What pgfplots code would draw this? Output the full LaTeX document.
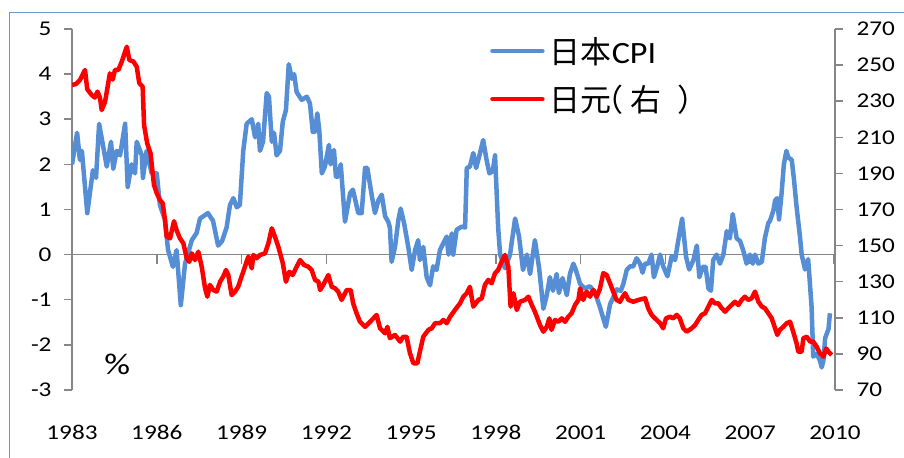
\documentclass[border=0pt]{standalone}
\usepackage{fontspec}
\setmainfont{Carlito}[FakeStretch=1.2]
\newfontfamily\legfont{Carlito}[FakeStretch=1.1]
\newfontfamily\cjk{Noto Sans CJK SC}
\usepackage{pgfplots}
\usepackage{pgfplotstable}
\pgfplotsset{compat=1.18}
\definecolor{cpiblue}{RGB}{85,142,213}
\definecolor{axgray}{RGB}{134,134,134}
\definecolor{frameblue}{RGB}{100,150,210}

\pgfplotstableread{
year cpi
1983.00 2.0
1983.18 2.7
1983.28 2.1
1983.35 2.3
1983.54 0.92
1983.74 1.87
1983.85 1.7
1983.96 2.9
1984.23 1.95
1984.38 2.5
1984.46 1.9
1984.58 2.3
1984.70 2.2
1984.88 2.9
1984.97 1.5
1985.11 2.0
1985.23 1.8
1985.29 2.5
1985.47 2.2
1985.51 1.7
1985.64 2.3
1985.82 1.8
1986.00 1.8
1986.11 1.1
1986.29 0.77
1986.40 0.1
1986.57 -0.27
1986.70 0.1
1986.85 -1.12
1987.00 -0.2
1987.24 0.32
1987.41 0.48
1987.53 0.8
1987.81 0.92
1987.99 0.75
1988.17 0.2
1988.31 0.3
1988.47 0.6
1988.59 1.1
1988.71 1.25
1988.83 1.05
1988.94 1.1
1989.06 2.3
1989.18 2.9
1989.36 3.0
1989.48 2.6
1989.59 2.9
1989.65 2.3
1989.76 2.5
1989.89 3.58
1989.97 3.5
1990.07 2.5
1990.15 2.7
1990.24 2.2
1990.36 2.3
1990.46 2.95
1990.57 3.2
1990.67 4.22
1990.78 3.9
1990.86 4.0
1990.95 3.6
1991.13 3.43
1991.31 3.5
1991.42 3.35
1991.52 2.72
1991.60 2.72
1991.68 3.13
1991.75 2.76
1991.84 1.8
1991.95 1.95
1992.09 2.43
1992.15 2.0
1992.27 2.32
1992.34 1.73
1992.42 1.73
1992.51 2.0
1992.66 0.73
1992.84 1.36
1992.94 1.44
1993.13 0.92
1993.25 0.92
1993.37 1.92
1993.45 1.92
1993.61 1.3
1993.72 0.92
1993.84 1.2
1993.96 1.33
1994.08 0.85
1994.19 0.73
1994.25 0.6
1994.31 -0.16
1994.43 0.17
1994.55 0.77
1994.63 1.02
1994.75 0.7
1994.90 0.17
1995.02 -0.34
1995.14 0.1
1995.25 0.32
1995.31 -0.12
1995.43 0.17
1995.55 -0.5
1995.67 -0.68
1995.78 -0.26
1995.90 -0.34
1996.02 0.1
1996.14 0.25
1996.26 0.4
1996.32 0.0
1996.44 0.47
1996.49 0.0
1996.61 0.55
1996.79 0.62
1996.91 0.6
1996.97 1.92
1997.08 1.95
1997.20 2.25
1997.30 1.92
1997.41 2.18
1997.55 2.54
1997.67 2.1
1997.77 1.8
1997.89 1.85
1997.97 2.2
1998.08 0.6
1998.15 0.0
1998.32 -0.3
1998.50 0.0
1998.68 0.8
1998.82 0.4
1998.96 -0.34
1999.10 0.0
1999.21 -0.43
1999.38 0.32
1999.53 -0.3
1999.68 -1.2
1999.80 -0.9
1999.91 -0.5
2000.02 -0.8
2000.15 -0.43
2000.23 -0.85
2000.36 -0.52
2000.51 -0.9
2000.62 -0.43
2000.74 -0.2
2000.83 -0.34
2000.98 -0.65
2001.15 -0.75
2001.33 -0.7
2001.51 -0.85
2001.68 -1.16
2001.89 -1.6
2002.04 -1.1
2002.15 -0.95
2002.27 -0.77
2002.42 -0.8
2002.51 -0.65
2002.63 -0.34
2002.75 -0.26
2002.86 -0.26
2002.98 -0.08
2003.10 -0.2
2003.19 -0.4
2003.28 -0.2
2003.39 -0.2
2003.51 0.0
2003.59 -0.5
2003.71 -0.26
2003.81 0.0
2003.92 -0.26
2004.07 -0.48
2004.22 -0.04
2004.34 -0.12
2004.45 0.3
2004.59 0.8
2004.73 -0.05
2004.84 -0.33
2004.99 -0.12
2005.11 0.2
2005.20 -0.5
2005.32 -0.27
2005.42 -0.27
2005.52 -0.75
2005.61 -0.8
2005.69 -0.12
2005.81 0.0
2005.93 -0.2
2006.05 0.0
2006.17 0.52
2006.28 0.36
2006.38 0.9
2006.52 0.36
2006.64 0.3
2006.75 0.1
2006.87 -0.2
2006.99 0.0
2007.09 -0.2
2007.17 0.0
2007.29 -0.2
2007.41 -0.16
2007.52 0.37
2007.64 0.7
2007.70 0.75
2007.82 0.98
2007.88 1.2
2007.95 1.25
2008.02 0.78
2008.11 1.36
2008.19 2.0
2008.28 2.3
2008.35 2.15
2008.47 2.1
2008.55 1.65
2008.64 1.06
2008.76 0.4
2008.82 0.0
2008.94 -0.33
2009.05 -0.1
2009.17 -1.15
2009.23 -2.26
2009.35 -2.2
2009.47 -2.35
2009.53 -2.5
2009.59 -2.35
2009.65 -1.85
2009.77 -1.65
2009.82 -1.3
}\cpidata

\pgfplotstableread{
year yen
1983.00 239
1983.14 239.5
1983.28 241.7
1983.46 247.3
1983.54 236.6
1983.70 233.4
1983.81 232
1983.90 235.3
1983.99 232
1984.05 225.1
1984.17 229.7
1984.34 245.4
1984.44 242
1984.52 247.3
1984.64 247.3
1984.76 251.9
1984.94 260.2
1985.03 252.8
1985.17 252
1985.29 249.1
1985.38 240
1985.50 238
1985.55 216.8
1985.66 206.7
1985.78 201.1
1985.90 183.6
1986.00 179
1986.11 175.3
1986.21 173.4
1986.29 164.2
1986.35 155
1986.47 154
1986.61 163.5
1986.70 158.6
1986.82 154
1986.94 151.3
1987.06 143
1987.15 141
1987.24 145.7
1987.35 142
1987.47 146.6
1987.59 138.3
1987.71 126.3
1987.79 121.7
1987.88 128.2
1988.00 125.4
1988.12 124.5
1988.24 130
1988.35 132.8
1988.45 136.5
1988.53 133.7
1988.65 122.6
1988.77 124.5
1988.88 127.2
1989.00 132.8
1989.12 138.3
1989.24 143.9
1989.36 137.4
1989.42 144.8
1989.54 143
1989.65 144.8
1989.83 145.7
1989.95 151.3
1990.07 159.6
1990.18 155
1990.30 149.4
1990.46 140.2
1990.57 130
1990.69 135.5
1990.81 133.7
1990.95 138.3
1991.07 142
1991.21 139.3
1991.36 138.3
1991.48 136.5
1991.60 131
1991.72 130
1991.78 125.4
1991.89 128.2
1992.07 133.7
1992.19 127.2
1992.31 126.3
1992.42 124.5
1992.54 119.9
1992.72 125.4
1992.86 125.4
1992.95 118
1993.07 112.5
1993.19 107.8
1993.37 105
1993.55 107.8
1993.78 111.6
1993.90 104.2
1994.08 101.4
1994.16 105
1994.25 98.7
1994.43 100.5
1994.61 96.8
1994.72 99.5
1994.84 99.5
1994.96 90.3
1995.08 84.8
1995.22 84.8
1995.31 91.2
1995.43 99.5
1995.61 103.3
1995.73 104.2
1995.85 107
1996.02 107
1996.14 108.8
1996.26 107
1996.38 110.6
1996.55 114.3
1996.73 118
1996.85 121.7
1996.97 123.6
1997.08 127.2
1997.20 116.2
1997.38 119.9
1997.50 120.8
1997.61 128.2
1997.73 131
1997.85 129.1
1997.97 134.7
1998.08 136.5
1998.20 141
1998.32 144.8
1998.44 138.3
1998.52 116.2
1998.62 123.6
1998.74 114.3
1998.85 118.9
1999.03 119.9
1999.15 121.7
1999.27 117.1
1999.38 113.4
1999.56 106
1999.68 102.3
1999.80 105
1999.89 109.7
1999.97 103.3
2000.09 108.8
2000.21 107.8
2000.33 109.7
2000.45 107.8
2000.56 110.6
2000.68 112.5
2000.80 117.1
2000.92 119.9
2000.98 126.3
2001.09 119.9
2001.21 124.5
2001.33 121.7
2001.45 125.4
2001.57 121.7
2001.68 126
2001.80 134.7
2001.92 133.7
2002.04 129.1
2002.15 124.5
2002.27 119.9
2002.39 118.9
2002.49 121.7
2002.57 123.6
2002.69 119.9
2002.86 118.9
2003.04 119.9
2003.28 120.8
2003.39 115.3
2003.51 111.6
2003.63 109.7
2003.81 107
2003.92 104.2
2004.02 109.7
2004.16 110.6
2004.27 109.7
2004.40 111.6
2004.51 109.7
2004.63 104.2
2004.75 102.3
2004.93 104.2
2005.05 106
2005.16 108.8
2005.28 111.6
2005.40 112.5
2005.52 116.2
2005.64 119.9
2005.75 118
2005.87 118
2005.99 115.3
2006.11 113.4
2006.22 115.3
2006.34 117.1
2006.46 118.9
2006.58 117.1
2006.70 119.9
2006.81 121.7
2006.93 119.9
2007.05 120.8
2007.17 124.5
2007.29 118.9
2007.41 116.2
2007.52 115.3
2007.64 112.5
2007.76 109.7
2007.88 104.2
2007.96 100.5
2008.05 103.3
2008.17 105
2008.29 107
2008.41 107.8
2008.52 102.3
2008.64 95.9
2008.70 91.2
2008.82 91.2
2008.88 98.7
2009.00 99.5
2009.12 96.8
2009.23 96.8
2009.35 94
2009.47 90.3
2009.59 88.5
2009.69 93
2009.77 91.2
2009.88 89.4
}\yendata

\pgfplotsset{
  myaxis/.style={
    at={(72bp,68bp)}, anchor=south west, scale only axis,
    width=763bp, height=361bp,
    xmin=1983, xmax=2010,
    tick align=outside, major tick length=8bp,
    axis line style={axgray, line width=1.5bp},
    ytick style={axgray, line width=1.5bp},
    tick label style={font=\fontsize{21bp}{25bp}\selectfont, black},
    /pgf/number format/1000 sep={},
    /pgf/number format/assume math mode=true,
  }
}

\begin{document}
\begin{tikzpicture}
\useasboundingbox (0,0) rectangle (904bp,458bp);
\draw[frameblue, line width=1.5bp] (9.3bp,-10bp) -- (9.3bp,445.3bp) -- (920bp,445.3bp);
\begin{axis}[myaxis,
  ymin=-3, ymax=5, ytick={-3,-2,...,5},
  axis y line*=left, axis x line*=bottom,
  x axis line style={draw=none},
  xtick={1983,1986,...,2010}, xtick style={draw=none},
  xticklabel style={anchor=base, yshift=-41.3bp},
  yticklabel style={xshift=-9bp},
]
\addplot[axgray, line width=1.5bp, forget plot] coordinates {(1983,0) (2010,0)};
\addplot[axgray, line width=1.5bp, ycomb, no marks, forget plot] coordinates {(1986,-0.2) (1989,-0.2) (1992,-0.2) (1995,-0.2) (1998,-0.2) (2001,-0.2) (2004,-0.2) (2007,-0.2) (2009.95,-0.2)};
\addplot[cpiblue, line width=4.5bp, line join=round, no marks] table[x=year,y=cpi]{\cpidata};
\node[font=\fontsize{30bp}{36bp}\selectfont] at (axis cs:1984.6,-2.44) {\%};
\end{axis}
\begin{axis}[myaxis,
  ymin=70, ymax=270, ytick={70,90,...,270},
  axis y line*=right, axis x line=none,
  yticklabel style={xshift=10bp},
  legend cell align=left,
  legend image code/.code={\draw[#1, line cap=round] (0bp,0bp) -- (50bp,0bp);},
  legend style={at={(0.5478,0.9814)}, anchor=north west, draw=none, fill=none,
    inner xsep=0pt, inner ysep=0pt, row sep=18.3bp, column sep=5.1bp,
    font=\fontsize{31bp}{36bp}\selectfont\legfont,
    nodes={inner sep=0pt, text height=27.3bp, text depth=2.7bp}},
]
\addlegendimage{cpiblue, line width=4.5bp}
\addlegendentry{{\cjk 日本}CPI}
\addplot[red, line width=4.5bp, line join=round, no marks] table[x=year,y=yen]{\yendata};
\addlegendentry{{\cjk 日元\kern-19bp（\kern7bp 右\kern16bp ）}}
\end{axis}
\end{tikzpicture}
\end{document}
